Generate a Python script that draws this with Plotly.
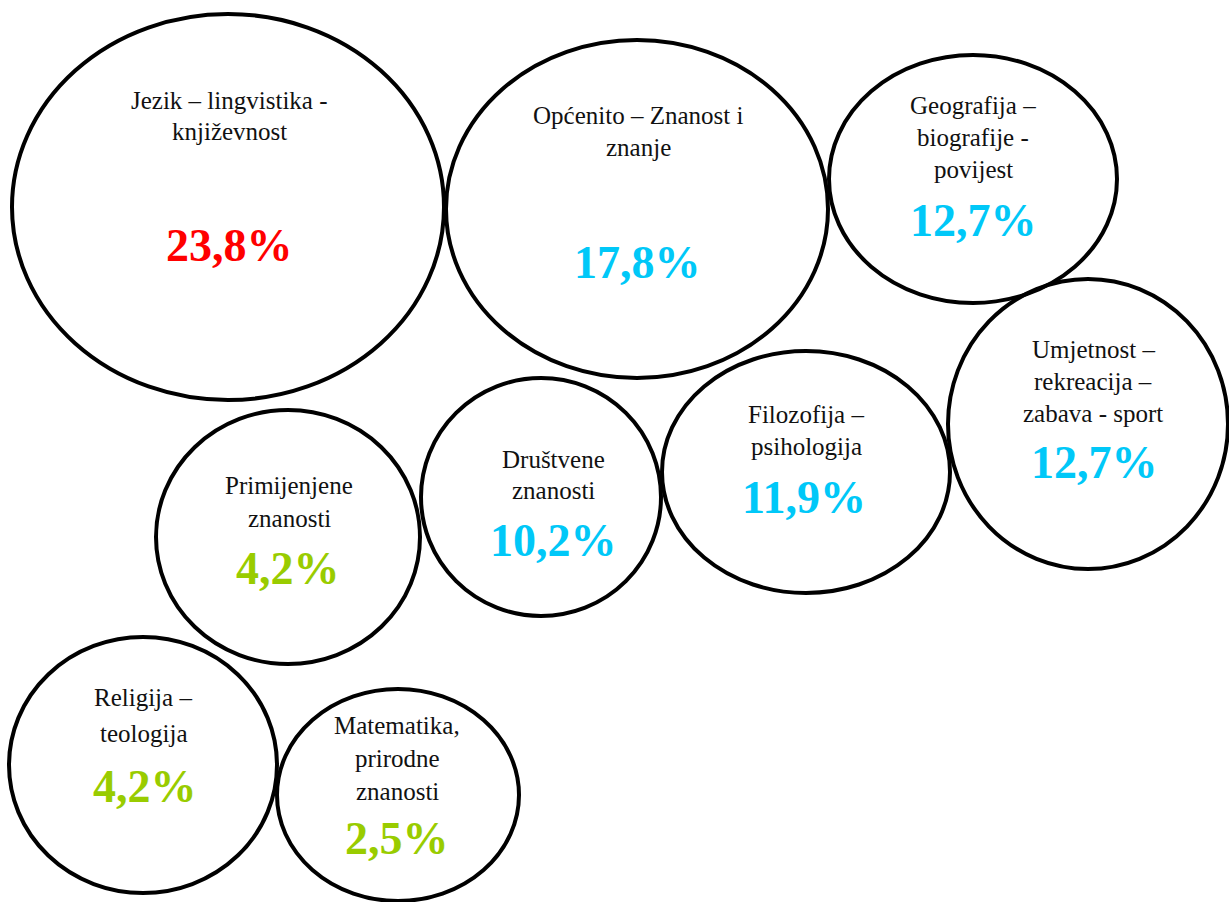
import plotly.graph_objects as go

# ---- data ----
categories = [
    "Jezik – lingvistika -\nknjiževnost",
    "Općenito – Znanost i\nznanje",
    "Geografija –\nbiografije -\npovijest",
    "Umjetnost –\nrekreacija –\nzabava - sport",
    "Filozofija –\npsihologija",
    "Društvene\nznanosti",
    "Primijenjene\nznanosti",
    "Religija –\nteologija",
    "Matematika,\nprirodne\nznanosti",
]
values = [23.8, 17.8, 12.7, 12.7, 11.9, 10.2, 4.2, 4.2, 2.5]
value_labels = ["23,8%", "17,8%", "12,7%", "12,7%", "11,9%", "10,2%", "4,2%", "4,2%", "2,5%"]

# ---- layout (bubble placement, pixels) ----
centers = [(228, 207), (637, 209), (973, 179), (1088, 424), (806, 472),
           (541, 497), (288, 537), (143, 765), (398, 795)]
radii = [(216, 193), (191, 169), (144, 124), (140, 145), (144, 121),
         (120, 119), (132, 127), (134, 128), (121, 106)]
label_pos = [(229, 100), (638, 115), (973, 105), (1093, 349), (806, 414),
             (553, 459), (289, 485), (143, 697), (397, 725)]
line_gap = [31, 32, 32, 32, 32, 31, 33, 36, 33]
value_pos = [(229, 245), (637, 262), (973, 220), (1094, 462), (804, 497),
             (553, 540), (288, 568), (145, 786), (397, 838)]


def value_color(v):
    if v >= 20:
        return "#FF0000"
    if v >= 5:
        return "#00C8F8"
    return "#99CC00"


fig = go.Figure()
fig.add_trace(go.Scatter(x=[c[0] for c in centers], y=[c[1] for c in centers],
                         mode="markers", marker=dict(opacity=0), hoverinfo="skip",
                         showlegend=False))

shapes = []
annotations = []
for i, cat in enumerate(categories):
    cx, cy = centers[i]
    rx, ry = radii[i]
    shapes.append(dict(type="circle", xref="x", yref="y",
                       x0=cx - rx, x1=cx + rx, y0=cy - ry, y1=cy + ry,
                       line=dict(color="black", width=4), fillcolor="rgba(0,0,0,0)"))
    lx, ly = label_pos[i]
    for j, line in enumerate(cat.split("\n")):
        annotations.append(dict(x=lx, y=ly + j * line_gap[i], xref="x", yref="y",
                                text=line, showarrow=False,
                                font=dict(family="Liberation Serif, serif", size=25, color="#111111"),
                                xanchor="center", yanchor="middle"))
    vx, vy = value_pos[i]
    annotations.append(dict(x=vx, y=vy, xref="x", yref="y",
                            text="<b>" + value_labels[i] + "</b>", showarrow=False,
                            font=dict(family="Liberation Serif, serif", size=46,
                                      color=value_color(values[i])),
                            xanchor="center", yanchor="middle"))

fig.update_layout(
    width=1229, height=902,
    margin=dict(l=0, r=0, t=0, b=0),
    paper_bgcolor="white", plot_bgcolor="white",
    xaxis=dict(range=[0, 1229], visible=False, fixedrange=True),
    yaxis=dict(range=[902, 0], visible=False, fixedrange=True),
    shapes=shapes, annotations=annotations,
    showlegend=False,
)

fig.write_html("out.html", config={"displayModeBar": False})
